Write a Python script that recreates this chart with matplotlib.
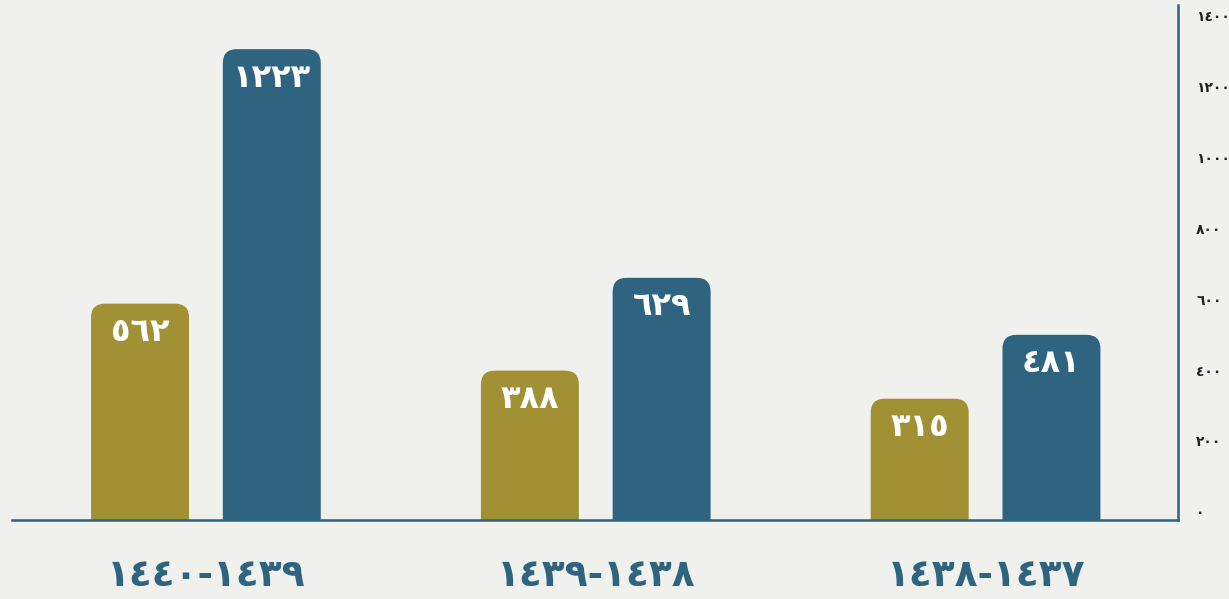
import matplotlib
matplotlib.use("Agg")
import matplotlib.pyplot as plt
from matplotlib.patches import FancyBboxPatch
import numpy as np

categories = ["١٤٤٠-١٤٣٩", "١٤٣٩-١٤٣٨", "١٤٣٨-١٤٣٧"]
series_gold = [562, 388, 315]
series_blue = [1223, 629, 481]
gold_labels = ["٥٦٢", "٣٨٨", "٣١٥"]
blue_labels = ["١٢٢٣", "٦٢٩", "٤٨١"]
tick_values = [0, 200, 400, 600, 800, 1000, 1200, 1400]
tick_labels = ["٠", "٢٠٠", "٤٠٠", "٦٠٠", "٨٠٠", "١٠٠٠", "١٢٠٠", "١٤٠٠"]

GOLD = "#a19034"
BLUE = "#2e6480"
BG = "#f0f0ec"

W, H = 1229, 599
fig = plt.figure(figsize=(W / 100, H / 100), dpi=100, facecolor=BG)
plt.rcParams['font.family'] = ['DejaVu Sans']

left_px, right_px, top_px, bot_px = 12, 1178, 5, 520
ax = fig.add_axes([left_px / W, 1 - bot_px / H, (right_px - left_px) / W, (bot_px - top_px) / H])
ax.set_facecolor("none")

px_per_unit_y = 0.385
ax.set_ylim(0, (bot_px - top_px) / px_per_unit_y)
spacing_px = 390.0
ax.set_xlim(-(206 - left_px) / spacing_px, 2 + (right_px - 985.5) / spacing_px)

bar_w = 98 / spacing_px
offset = 0.169
radius_px = 14
x_units_per_px = 1 / spacing_px
y_units_per_px = 1 / px_per_unit_y
aspect = y_units_per_px / x_units_per_px

x = np.arange(len(categories))
for xs, vals, labs, col in [(x - offset, series_gold, gold_labels, GOLD),
                            (x + offset, series_blue, blue_labels, BLUE)]:
    for xi, v, lab in zip(xs, vals, labs):
        p = FancyBboxPatch((xi - bar_w / 2, -100), bar_w, v + 100,
                           boxstyle=f"round,pad=0,rounding_size={radius_px * x_units_per_px}",
                           mutation_aspect=aspect, facecolor=col, edgecolor="none")
        ax.add_patch(p)
        ax.annotate(lab, (xi, v), xytext=(0, -29 * 0.72), textcoords="offset points",
                    ha="center", va="center", color="white", fontsize=23, fontweight="bold")

for s in ["top", "left"]:
    ax.spines[s].set_visible(False)
ax.spines["bottom"].set_color(BLUE)
ax.spines["bottom"].set_linewidth(1.8)
ax.spines["right"].set_color(BLUE)
ax.spines["right"].set_linewidth(1.8)
ax.set_xticks(x)
ax.set_xticklabels(categories, fontsize=27, fontweight="bold", color=BLUE)
ax.tick_params(axis="x", length=0, pad=27)
ax.set_yticks([])

ax2 = ax.twinx()
ax2.set_ylim(-(bot_px - 512) / 0.355, (512 - top_px) / 0.355)
ax2.set_yticks(tick_values)
ax2.set_yticklabels(tick_labels, fontsize=10, fontweight="bold", color="#222222")
ax2.tick_params(axis="y", length=0, pad=13)
for s in ax2.spines.values():
    s.set_visible(False)

fig.savefig("out.png", dpi=100, facecolor=BG)
